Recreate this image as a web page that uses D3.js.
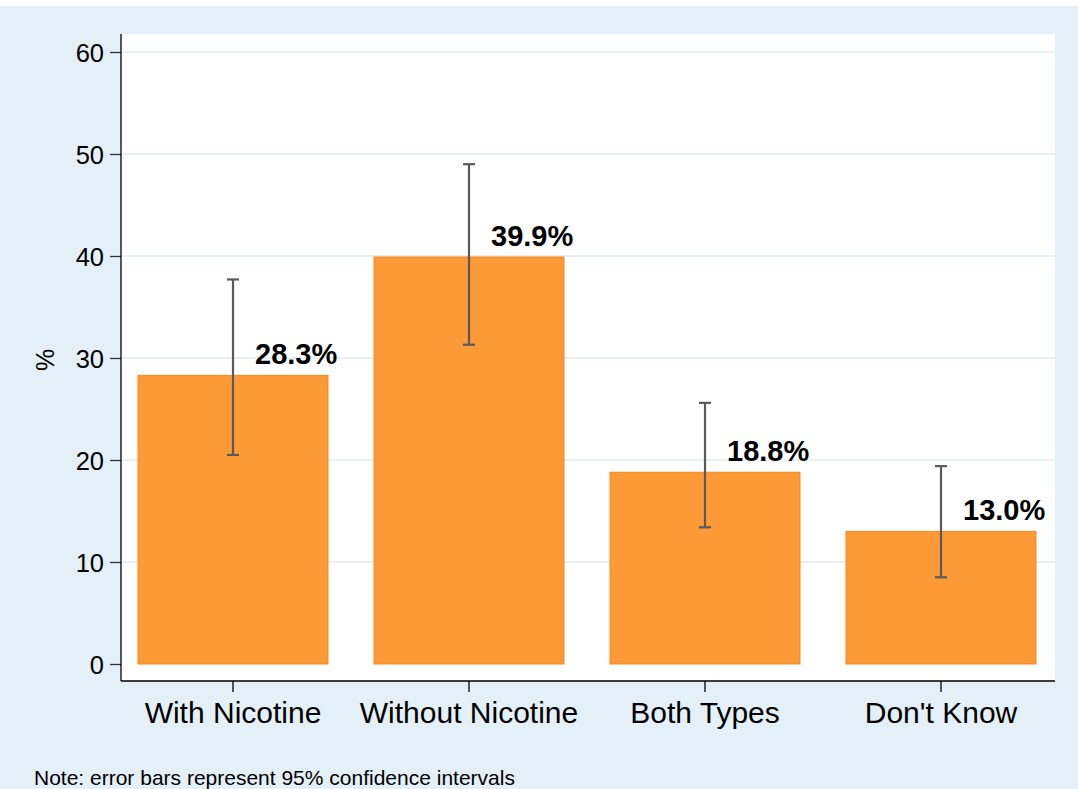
<!DOCTYPE html>
<html><head><meta charset="utf-8">
<script src="https://cdn.jsdelivr.net/npm/d3@7"></script>
<style>body{margin:0;background:#fff}svg{display:block}text{font-family:"Liberation Sans",Arial,sans-serif}</style>
</head><body><svg id="c" width="1078" height="789"></svg>
<script>
const categories = ["With Nicotine","Without Nicotine","Both Types","Don't Know"];
const values = [28.3, 39.9, 18.8, 13.0];
const ciLow = [20.5, 31.3, 13.4, 8.5];
const ciHigh = [37.7, 49.0, 25.6, 19.4];
const yTicks = [0,10,20,30,40,50,60];
const note = "Note: error bars represent 95% confidence intervals";

const svg = d3.select("#c");
svg.append("rect").attr("x",0).attr("y",6).attr("width",1078).attr("height",783).attr("fill","#e4f0f7");
const L=121,R=1055,T=34,B=681;
svg.append("rect").attr("x",L).attr("y",T).attr("width",R-L).attr("height",B-T).attr("fill","#fff");

const y = d3.scaleLinear().domain([0,60]).range([664,52]);
const x = d3.scaleBand().domain(categories).range([115,1059]).paddingInner(0.195).paddingOuter(0.0975);

// gridlines
svg.append("g").selectAll("line").data(yTicks.filter(d=>d>0)).join("line")
  .attr("x1",L+1).attr("x2",R).attr("y1",d=>y(d)).attr("y2",d=>y(d))
  .attr("stroke","#e8f0f3").attr("stroke-width",2);

// bars
svg.append("g").selectAll("rect").data(categories).join("rect")
  .attr("x",d=>x(d)).attr("width",x.bandwidth())
  .attr("y",(d,i)=>y(values[i])).attr("height",(d,i)=>y(0)-y(values[i]))
  .attr("fill","#fd9a38").attr("stroke","#f6891c").attr("stroke-width",1);

// error bars
const eb = svg.append("g").attr("stroke","#5a5a5a").attr("stroke-width",2.2);
categories.forEach((c,i)=>{
  const cx = x(c)+x.bandwidth()/2;
  eb.append("line").attr("x1",cx).attr("x2",cx).attr("y1",y(ciLow[i])).attr("y2",y(ciHigh[i]));
  eb.append("line").attr("x1",cx-6).attr("x2",cx+6).attr("y1",y(ciLow[i])).attr("y2",y(ciLow[i]));
  eb.append("line").attr("x1",cx-6).attr("x2",cx+6).attr("y1",y(ciHigh[i])).attr("y2",y(ciHigh[i]));
});

// value labels
svg.append("g").selectAll("text").data(categories).join("text")
  .attr("x",d=>x(d)+x.bandwidth()/2+22)
  .attr("y",(d,i)=>y(values[i]+1.1))
  .attr("font-size",29).attr("font-weight","bold").attr("fill","#000")
  .text((d,i)=>values[i].toFixed(1)+"%");

// axes
const yAxis = d3.axisLeft(y).tickValues(yTicks).tickSize(11).tickPadding(6).tickSizeOuter(0);
const gy = svg.append("g").attr("transform",`translate(${L},0)`).call(yAxis);
gy.select(".domain").remove();
gy.selectAll(".tick line").attr("stroke","#333").attr("stroke-width",1.3);
gy.selectAll("text").attr("font-size",25.5).attr("fill","#000").attr("dy","0.36em").attr("font-family","Liberation Sans, Arial, sans-serif");
svg.append("line").attr("x1",L).attr("x2",L).attr("y1",T).attr("y2",B).attr("stroke","#000").attr("stroke-width",1.3);

const xAxis = d3.axisBottom(x).tickSize(11).tickPadding(10).tickSizeOuter(0);
const gx = svg.append("g").attr("transform",`translate(0,${B})`).call(xAxis);
gx.select(".domain").remove();
gx.selectAll(".tick line").attr("stroke","#000").attr("stroke-width",1.3);
gx.selectAll("text").attr("font-size",30).attr("fill","#000").attr("dy","0").attr("y",42).attr("font-family","Liberation Sans, Arial, sans-serif");
svg.append("line").attr("x1",L).attr("x2",R).attr("y1",B).attr("y2",B).attr("stroke","#000").attr("stroke-width",1.3);

// y title
svg.append("text").attr("transform","translate(54,360) rotate(-90)").attr("text-anchor","middle")
  .attr("font-size",25).attr("fill","#000").text("%");

// note
svg.append("text").attr("x",34).attr("y",785).attr("font-size",21).attr("fill","#000").text(note);
</script></body></html>
